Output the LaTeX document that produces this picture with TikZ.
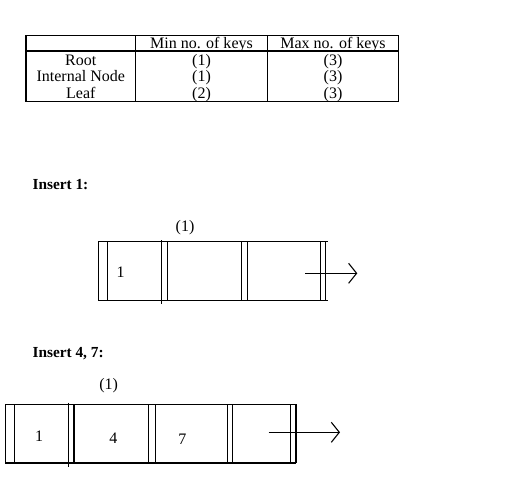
\documentclass[tikz,border=0pt]{standalone}
\usepackage{fontspec}
\setmainfont{Liberation Serif}
\usetikzlibrary{arrows.meta}
\begin{document}
\begin{tikzpicture}[x=0.75pt,y=-0.75pt,
  ln/.style={line width=0.8pt,black},
  txt/.style={inner sep=0pt,anchor=base,font=\fontsize{12pt}{14pt}\selectfont},
  lbl/.style={inner sep=0pt,anchor=base west,font=\fontsize{11.5pt}{14pt}\selectfont\bfseries},
  ptr/.style={line width=0.8pt,-{Straight Barb[length=6pt,width=15pt,line width=0.8pt]}}]
\useasboundingbox (0,0) rectangle (521,479);
% ---- table ----
\draw[ln] (26,35.3) rectangle (398.7,101.7);
\draw[ln] (26,51) -- (398.7,51);
\draw[ln] (135.7,35.3) -- (135.7,101.7);
\draw[ln] (267.3,35.3) -- (267.3,101.7);
\node[txt] (hmin) at (201.5,48) {Min no. of keys};
\node[txt] (hmax) at (333,48) {Max no. of keys};
\node[txt] (rroot) at (80.8,65) {Root};
\node[txt] (rint) at (80.8,81.6) {Internal Node};
\node[txt] (rleaf) at (80.8,98.3) {Leaf};
\node[txt] (rootmin) at (201.5,65) {(1)};
\node[txt] (intmin) at (201.5,81.6) {(1)};
\node[txt] (leafmin) at (201.5,98.3) {(2)};
\node[txt] (rootmax) at (333,65) {(3)};
\node[txt] (intmax) at (333,81.6) {(3)};
\node[txt] (leafmax) at (333,98.3) {(3)};
% ---- Insert 1 ----
\node[lbl] (ins1) at (32.3,189) {Insert 1:};
\node[txt] (lvl1) at (185,231) {(1)};
\draw[ln] (98.3,241.7) -- (327.5,241.7);
\draw[ln] (98.3,300.3) -- (327.5,300.3);
\foreach \x in {98.3,107.3,167.3,241.7,247.7,320.7,325.7}
  \draw[ln] (\x,241.7) -- (\x,300.3);
\draw[ln] (161.7,240) -- (161.7,304);
\node[txt] (k1a) at (120.7,277) {1};
\coordinate (p1s) at (305,273.3);
\coordinate (p1e) at (357.3,273.3);
\draw[ptr] (p1s) -- (p1e);
% ---- Insert 4, 7 ----
\node[lbl] (ins2) at (32.3,357.3) {Insert 4, 7:};
\node[txt] (lvl2) at (108.7,389) {(1)};
\draw[ln] (5.3,404.3) -- (296,404.3);
\draw[ln] (5.3,463) -- (296,463);
\foreach \x in {5.3,14.3,74,148.7,155.7,227.7,232.3,290.3,296}
  \draw[ln] (\x,404.3) -- (\x,463);
\draw[ln] (68.3,402.7) -- (68.3,466.7);
\node[txt] (k2a) at (39,441) {1};
\node[txt] (k2b) at (113.3,443.7) {4};
\node[txt] (k2c) at (182.3,444.5) {7};
\coordinate (p2s) at (268.7,432.3);
\coordinate (p2e) at (340,432.3);
\draw[ptr] (p2s) -- (p2e);
\end{tikzpicture}
\end{document}
